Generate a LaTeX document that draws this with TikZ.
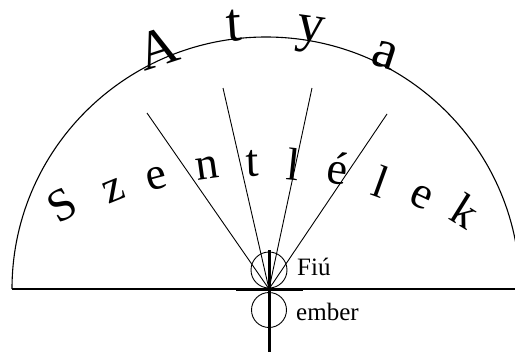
\documentclass[tikz,border=0pt]{standalone}
\usepackage{fontspec}
\setmainfont{Liberation Serif}
\begin{document}
\begin{tikzpicture}[x=1pt,y=-1pt,
  big/.style={inner sep=0pt,font=\fontsize{55}{58}\selectfont},
  mid/.style={inner sep=0pt,font=\fontsize{46}{50}\selectfont},
  small/.style={inner sep=0pt,anchor=base west,font=\fontsize{25}{28}\selectfont},
  thin/.style={line width=0.9pt},
  thick/.style={line width=3pt}]
\useasboundingbox (0,0) rectangle (515,356);
\coordinate (O) at (269,289);
\coordinate (L) at (12,289);
\coordinate (R) at (515,289);
\begin{scope}
\clip (0,0) rectangle (515,356);
\draw[line width=1.1pt] (L) arc[start angle=180,end angle=0,x radius=254pt,y radius=252pt];
\end{scope}
\draw[line width=1.1pt] (L) -- (R);
% rays
\coordinate (r1) at (147,113);
\coordinate (r2) at (223,88);
\coordinate (r3) at (312,88);
\coordinate (r4) at (387,114);
\foreach \r in {r1,r2,r3,r4} \draw[thin] (O) -- (\r);
% circles
\node[draw,circle,thin,minimum size=36pt,inner sep=0pt] (fiu) at (269,270) {};
\node[draw,circle,thin,minimum size=35pt,inner sep=0pt] (emb) at (269,310) {};
\coordinate (vt) at (269,250);
\coordinate (vb) at (269,352);
\coordinate (hl) at (236,289);
\coordinate (hr) at (303,289);
\draw[thick] (vt) -- (vb);
\draw[thick] (hl) -- (hr);
% Atya
\node[big,rotate=18] (A1) at (158,48) {A};
\node[big,rotate=4] (A2) at (234,26) {t};
\node[big,rotate=-8] (A3) at (310,35) {y};
\node[big,rotate=-18] (A4) at (385,55) {a};
% Szentlelek
\node[mid,rotate=30] (s1) at (62,205) {S};
\node[mid,rotate=22] (s2) at (114,191) {z};
\node[mid,rotate=15] (s3) at (157,179) {e};
\node[mid,rotate=8] (s4) at (207,168) {n};
\node[mid,rotate=2] (s5) at (252,164) {t};
\node[mid,rotate=-6] (s6) at (294,164) {l};
\node[mid,rotate=-8] (s7) at (338,168) {é};
\node[mid,rotate=-20] (s8) at (381,182) {l};
\node[mid,rotate=-25] (s9) at (421,197) {e};
\node[mid,rotate=-32] (s10) at (466,211) {k};
% labels
\node[small] (tf) at (297,275) {Fiú};
\node[small] (te) at (296,320) {ember};
\end{tikzpicture}
\end{document}
